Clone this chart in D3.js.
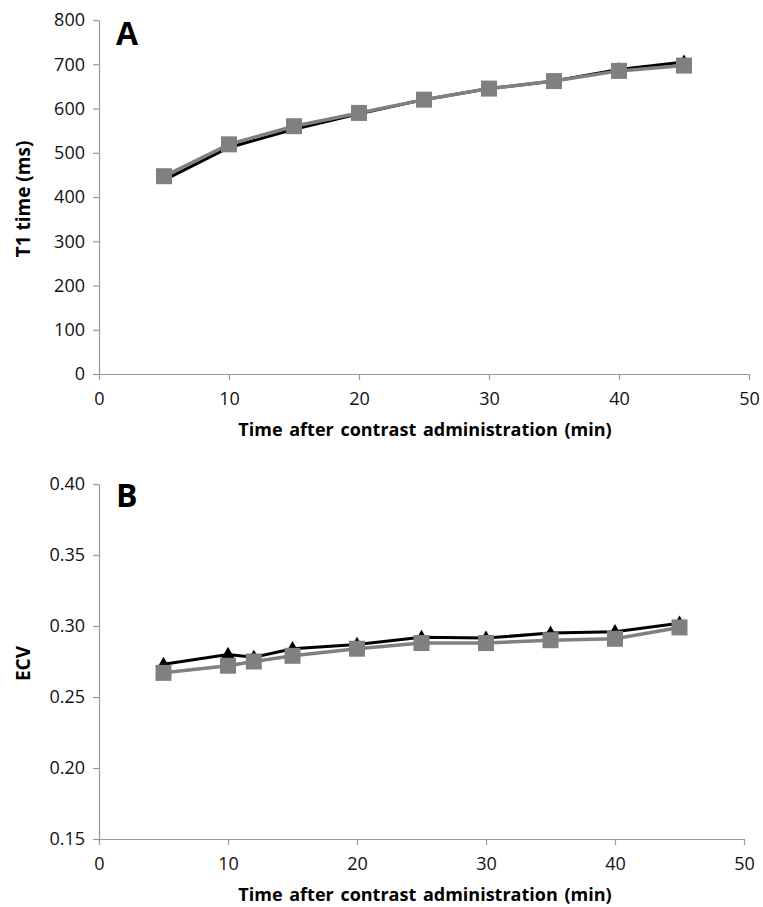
<!DOCTYPE html>
<html>
<head>
<meta charset="utf-8">
<script src="https://cdn.jsdelivr.net/npm/d3@7"></script>
<style>
  body { margin: 0; background: #fff; }
  text { font-family: "Open Sans", sans-serif; }
</style>
</head>
<body>
<div id="chart"></div>
<script>
// time points (min)
var timesA = [5, 10, 15, 20, 25, 30, 35, 40, 45];
var t1Black = [438, 512, 553, 588, 620, 645, 662, 688, 705];
var t1Gray = [447, 519, 560, 590, 620, 645, 662, 685, 697];

var timesB = [5, 10, 12, 15, 20, 25, 30, 35, 40, 45];
var ecvBlack = [0.273, 0.280, 0.278, 0.284, 0.287, 0.292, 0.2915, 0.295, 0.296, 0.302];
var ecvGray = [0.267, 0.272, 0.275, 0.279, 0.284, 0.288, 0.288, 0.290, 0.291, 0.299];

var xTicks = [0, 10, 20, 30, 40, 50];
var yTicksA = [0, 100, 200, 300, 400, 500, 600, 700, 800];
var yTicksB = [0.15, 0.20, 0.25, 0.30, 0.35, 0.40];

var xTitle = "Time after contrast administration (min)";

var width = 763, height = 907;
var svg = d3.select("#chart").append("svg")
  .attr("width", width)
  .attr("height", height);

function panel(opt) {
  var x = d3.scaleLinear().domain([0, 50]).range([99, opt.xRight]);
  var y = d3.scaleLinear().domain(opt.yDomain).range([opt.bottom, opt.top]);
  var g = svg.append("g");

  var xAxis = g.append("g")
    .attr("transform", "translate(0," + opt.bottom + ")")
    .call(d3.axisBottom(x).tickValues(xTicks).tickSize(6).tickSizeOuter(0).tickPadding(12));
  var yAxis = g.append("g")
    .attr("transform", "translate(99,0)")
    .call(d3.axisLeft(y).tickValues(opt.yTicks).tickFormat(opt.fmt).tickSize(6).tickSizeOuter(0).tickPadding(8));

  [xAxis, yAxis].forEach(function(a) {
    a.selectAll("path, line").attr("stroke", "#999").attr("stroke-width", 1.2);
    a.selectAll("text").attr("fill", "#111").style("font-size", "18px");
  });

  g.append("text")
    .attr("x", 425).attr("y", opt.bottom + 62)
    .attr("text-anchor", "middle")
    .style("font-size", "18px").style("font-weight", "bold")
    .style("word-spacing", "2px")
    .text(xTitle);

  g.append("text")
    .attr("transform", "translate(30," + ((opt.top + opt.bottom) / 2 + 2) + ") rotate(-90)")
    .attr("text-anchor", "middle")
    .style("font-size", "19px").style("font-weight", "bold")
    .text(opt.yTitle);

  g.append("text")
    .attr("x", 116).attr("y", opt.top + opt.labelDy)
    .style("font-size", "32px").style("font-weight", "bold")
    .text(opt.label);

  var line = d3.line()
    .x(function(d) { return x(d[0]); })
    .y(function(d) { return y(d[1]); });

  var black = d3.zip(opt.times, opt.black);
  var gray = d3.zip(opt.times, opt.gray);

  // black series: line + triangles
  g.append("path").datum(black)
    .attr("fill", "none").attr("stroke", "#000").attr("stroke-width", 3)
    .attr("d", line);
  g.selectAll(".tri").data(black).enter().append("path")
    .attr("transform", function(d) { return "translate(" + x(d[0]) + "," + y(d[1]) + ")"; })
    .attr("d", d3.symbol().type(d3.symbolTriangle).size(75))
    .attr("fill", "#000");

  // gray series: line + squares
  g.append("path").datum(gray)
    .attr("fill", "none").attr("stroke", "#808080").attr("stroke-width", 3.5)
    .attr("d", line);
  g.selectAll(".sq").data(gray).enter().append("rect")
    .attr("x", function(d) { return x(d[0]) - 8; })
    .attr("y", function(d) { return y(d[1]) - 8; })
    .attr("width", 16).attr("height", 16)
    .attr("fill", "#808080");
}

panel({
  top: 20, bottom: 374, xRight: 749,
  yDomain: [0, 800], yTicks: yTicksA, fmt: d3.format("d"),
  yTitle: "T1 time (ms)", label: "A", labelDy: 25,
  times: timesA, black: t1Black, gray: t1Gray
});

panel({
  top: 484, bottom: 839, xRight: 744,
  yDomain: [0.15, 0.40], yTicks: yTicksB, fmt: d3.format(".2f"),
  yTitle: "ECV", label: "B", labelDy: 23,
  times: timesB, black: ecvBlack, gray: ecvGray
});
</script>
</body>
</html>
